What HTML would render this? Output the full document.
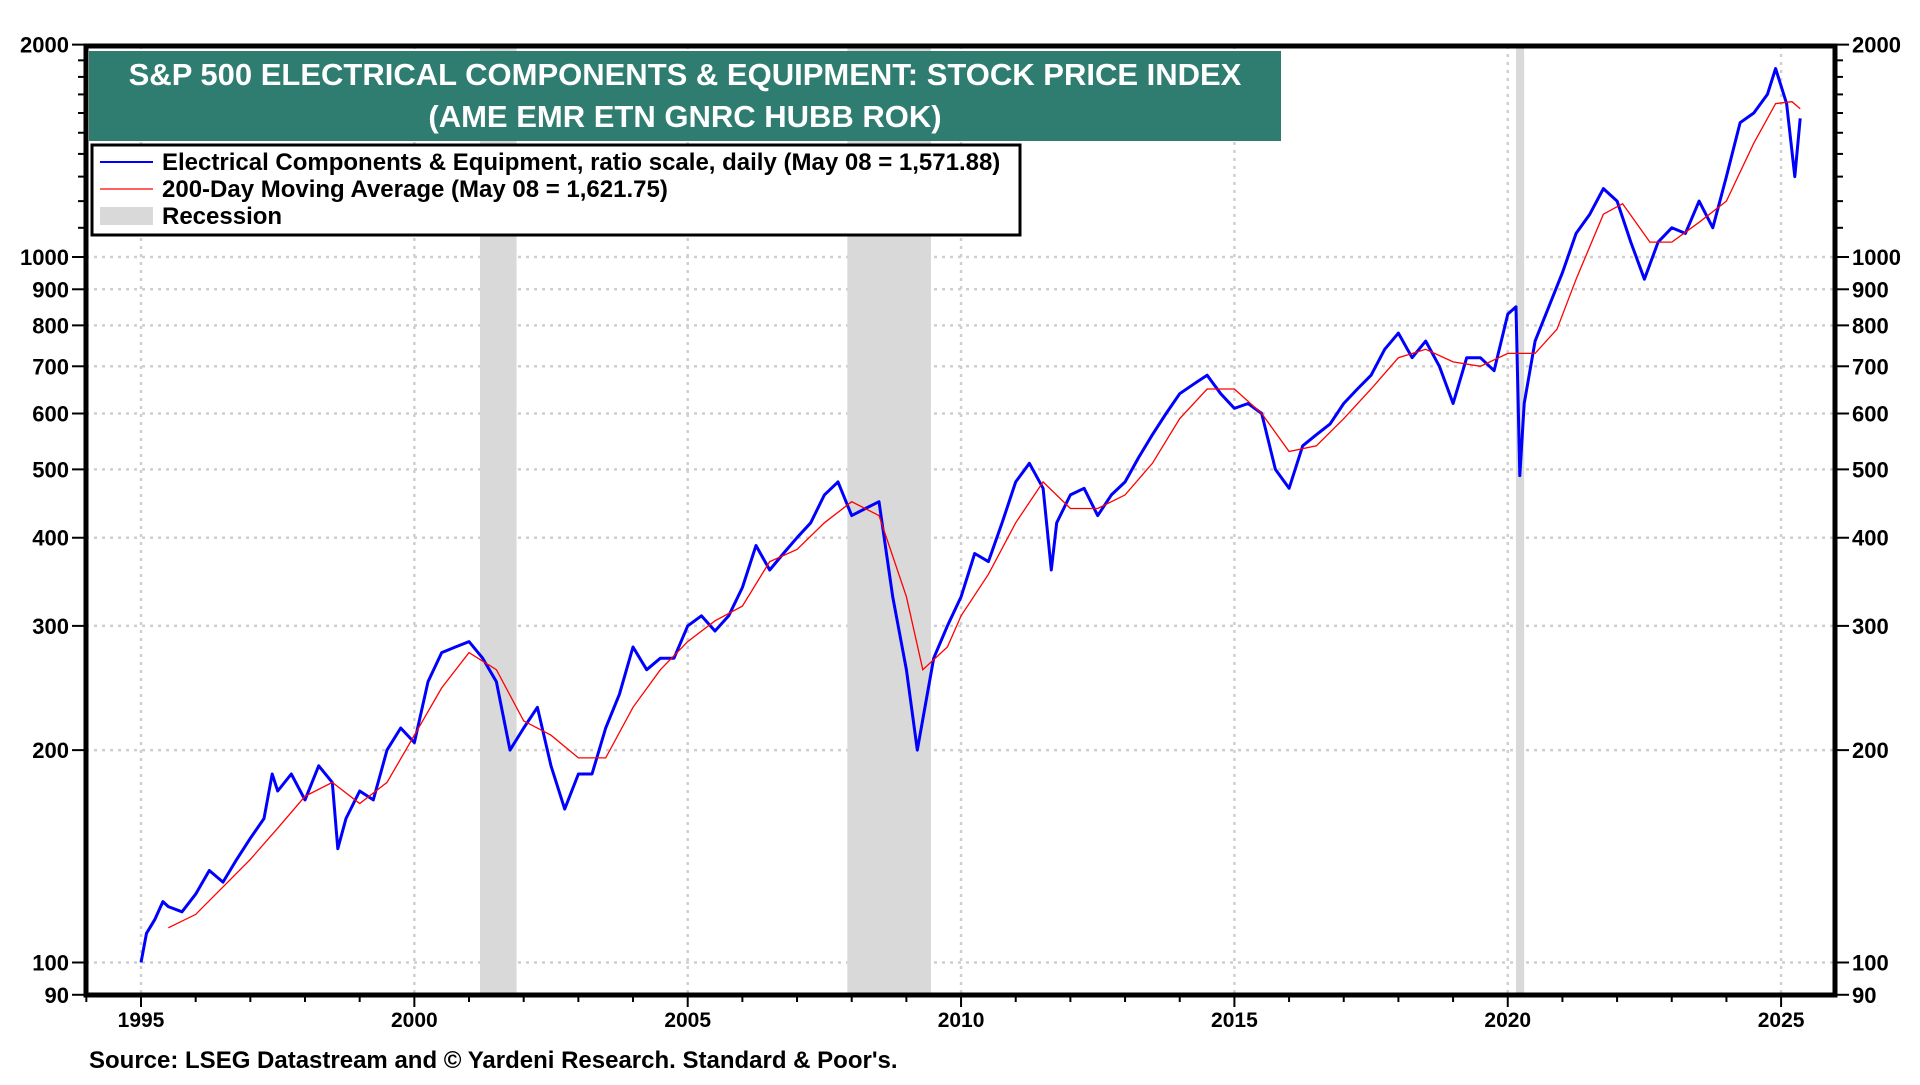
<!DOCTYPE html>
<html><head><meta charset="utf-8"><style>
body{margin:0;background:#fff;width:1920px;height:1080px;overflow:hidden;font-family:"Liberation Sans",Arial,sans-serif}
svg text{font-family:"Liberation Sans",Arial,sans-serif;font-weight:bold}
</style></head><body>
<svg id="chart" width="1920" height="1080" xmlns="http://www.w3.org/2000/svg">
<g id="grid"></g>
<g id="rec"></g>
<g id="series"></g>
<g id="axes"></g>
<rect x="89" y="51" width="1192" height="90" fill="#2e7d70"/>
<text x="685" y="85" text-anchor="middle" fill="#fff" font-size="31">S&amp;P 500 ELECTRICAL COMPONENTS &amp; EQUIPMENT: STOCK PRICE INDEX</text>
<text x="685" y="127" text-anchor="middle" fill="#fff" font-size="31">(AME EMR ETN GNRC HUBB ROK)</text>
<g>
<rect x="92" y="145" width="928" height="90" fill="#fff" stroke="#000" stroke-width="3"/>
<line x1="100" y1="162" x2="153" y2="162" stroke="#0000ff" stroke-width="2"/>
<text x="162" y="170" font-size="24">Electrical Components &amp; Equipment, ratio scale, daily (May 08 = 1,571.88)</text>
<line x1="100" y1="189" x2="153" y2="189" stroke="#ff0000" stroke-width="1.2"/>
<text x="162" y="197" font-size="24">200-Day Moving Average (May 08 = 1,621.75)</text>
<rect x="100" y="207" width="53" height="18" fill="#d9d9d9"/>
<text x="162" y="224" font-size="24">Recession</text>
</g>
<text x="89" y="1068" font-size="24">Source: LSEG Datastream and © Yardeni Research. Standard &amp; Poor's.</text>
</svg>
<script>
const priceYears=[1995.0,1995.1,1995.25,1995.4,1995.5,1995.75,1996.0,1996.25,1996.5,1996.75,1997.0,1997.25,1997.4,1997.5,1997.75,1998.0,1998.25,1998.5,1998.6,1998.75,1999.0,1999.25,1999.5,1999.75,2000.0,2000.25,2000.5,2000.75,2001.0,2001.25,2001.5,2001.75,2002.0,2002.25,2002.5,2002.75,2003.0,2003.25,2003.5,2003.75,2004.0,2004.25,2004.5,2004.75,2005.0,2005.25,2005.5,2005.75,2006.0,2006.25,2006.5,2006.75,2007.0,2007.25,2007.5,2007.75,2008.0,2008.25,2008.5,2008.75,2009.0,2009.2,2009.5,2009.75,2010.0,2010.25,2010.5,2010.75,2011.0,2011.25,2011.5,2011.65,2011.75,2012.0,2012.25,2012.5,2012.75,2013.0,2013.25,2013.5,2013.75,2014.0,2014.25,2014.5,2014.75,2015.0,2015.25,2015.5,2015.75,2016.0,2016.25,2016.5,2016.75,2017.0,2017.25,2017.5,2017.75,2018.0,2018.25,2018.5,2018.75,2019.0,2019.25,2019.5,2019.75,2020.0,2020.15,2020.22,2020.3,2020.5,2020.75,2021.0,2021.25,2021.5,2021.75,2022.0,2022.25,2022.5,2022.75,2023.0,2023.25,2023.5,2023.75,2024.0,2024.25,2024.5,2024.75,2024.9,2025.1,2025.25,2025.35];
const priceValues=[100,110,115,122,120,118,125,135,130,140,150,160,185,175,185,170,190,180,145,160,175,170,200,215,205,250,275,280,285,270,250,200,215,230,190,165,185,185,215,240,280,260,270,270,300,310,295,310,340,390,360,380,400,420,460,480,430,440,450,330,260,200,270,300,330,380,370,420,480,510,470,360,420,460,470,430,460,480,520,560,600,640,660,680,640,610,620,600,500,470,540,560,580,620,650,680,740,780,720,760,700,620,720,720,690,830,850,490,620,760,850,950,1080,1150,1250,1200,1050,930,1050,1100,1080,1200,1100,1300,1550,1600,1700,1850,1650,1300,1572];
const maYears=[1995.5,1996,1996.5,1997,1997.5,1998,1998.5,1999,1999.5,2000,2000.5,2001,2001.5,2002,2002.5,2003,2003.5,2004,2004.5,2005,2005.5,2006,2006.5,2007,2007.5,2008,2008.5,2009,2009.3,2009.75,2010,2010.5,2011,2011.5,2012,2012.5,2013,2013.5,2014,2014.5,2015,2015.5,2016,2016.5,2017,2017.5,2018,2018.5,2019,2019.5,2020,2020.5,2020.9,2021.25,2021.75,2022.1,2022.6,2023,2023.5,2024,2024.5,2024.9,2025.2,2025.35];
const maValues=[112,117,128,140,155,172,180,168,180,210,245,275,260,220,210,195,195,230,260,285,305,320,370,385,420,450,430,330,260,280,310,355,420,480,440,440,460,510,590,650,650,600,530,540,590,650,720,740,710,700,730,730,790,930,1150,1190,1050,1050,1120,1200,1450,1650,1660,1622];
const recessions=[[2001.2,2001.87],[2007.92,2009.45],[2020.15,2020.3]];
const yTicks=[100,200,300,400,500,600,700,800,900,1000,2000];
const yMinor=[90,100,200,300,400,500,600,700,800,900,1000,1100,1200,1300,1400,1500,1600,1700,1800,1900,2000];
const xTickYears=[1995,2000,2005,2010,2015,2020,2025];

const L=86,R=1835,T=46,B=995;
const xS=y=>141+(y-1995)*54.67;
const yS=v=>962.5-(Math.log10(v)-2)*705.5;
const NS="http://www.w3.org/2000/svg";
function mk(tag,attrs,parent){const e=document.createElementNS(NS,tag);for(const k in attrs)e.setAttribute(k,attrs[k]);parent.appendChild(e);return e;}
const grid=document.getElementById('grid'),rec=document.getElementById('rec'),ser=document.getElementById('series'),ax=document.getElementById('axes');
yTicks.forEach(v=>{if(v===2000)return;const l=mk('line',{x1:L,x2:R,y1:yS(v),y2:yS(v),stroke:'#cfcfcf','stroke-width':2.5,'stroke-dasharray':'3 5'},grid);

});
xTickYears.forEach(y=>{const l=mk('line',{x1:xS(y),x2:xS(y),y1:T,y2:B,stroke:'#cfcfcf','stroke-width':2.5,'stroke-dasharray':'3 5'},grid);

});
recessions.forEach(r=>{const e=mk('rect',{x:xS(r[0]),y:T,width:xS(r[1])-xS(r[0]),height:B-T,fill:'#d9d9d9'},rec);

});
const pp=priceYears.map((y,i)=>xS(y).toFixed(1)+','+yS(priceValues[i]).toFixed(1)).join(' ');
const pl=mk('polyline',{points:pp,fill:'none',stroke:'#0000ff','stroke-width':3,'stroke-linejoin':'round'},ser);


const mp=maYears.map((y,i)=>xS(y).toFixed(1)+','+yS(maValues[i]).toFixed(1)).join(' ');
const ml=mk('polyline',{points:mp,fill:'none',stroke:'#ff0000','stroke-width':1.3},ser);


mk('path',{d:`M${L} ${T} L${R} ${T} L${R} ${B} L${L} ${B} Z`,fill:'none',stroke:'#000','stroke-width':5},ax);
yMinor.forEach(v=>{const y=yS(v);const big=yTicks.includes(v)||v===90;mk('line',{x1:L-(big?14:8),x2:L,y1:y,y2:y,stroke:'#000','stroke-width':2},ax);mk('line',{x1:R,x2:R+(big?14:8),y1:y,y2:y,stroke:'#000','stroke-width':2},ax);});
yTicks.concat([90]).forEach(v=>{const y=yS(v)+8;
const a=mk('text',{x:L-17,y:y,'text-anchor':'end','font-size':22},ax);a.textContent=v;


const b=mk('text',{x:R+17,y:y,'text-anchor':'start','font-size':22},ax);b.textContent=v;

});
for(let yr=1994;yr<=2026;yr++){const x=xS(yr);if(x<L||x>R)continue;mk('line',{x1:x,x2:x,y1:B,y2:B+(yr%5===0?12:7),stroke:'#000','stroke-width':2},ax);}
xTickYears.forEach(yr=>{const t=mk('text',{x:xS(yr),y:1027,'text-anchor':'middle','font-size':21},ax);t.textContent=yr;

});
</script>
</body></html>
